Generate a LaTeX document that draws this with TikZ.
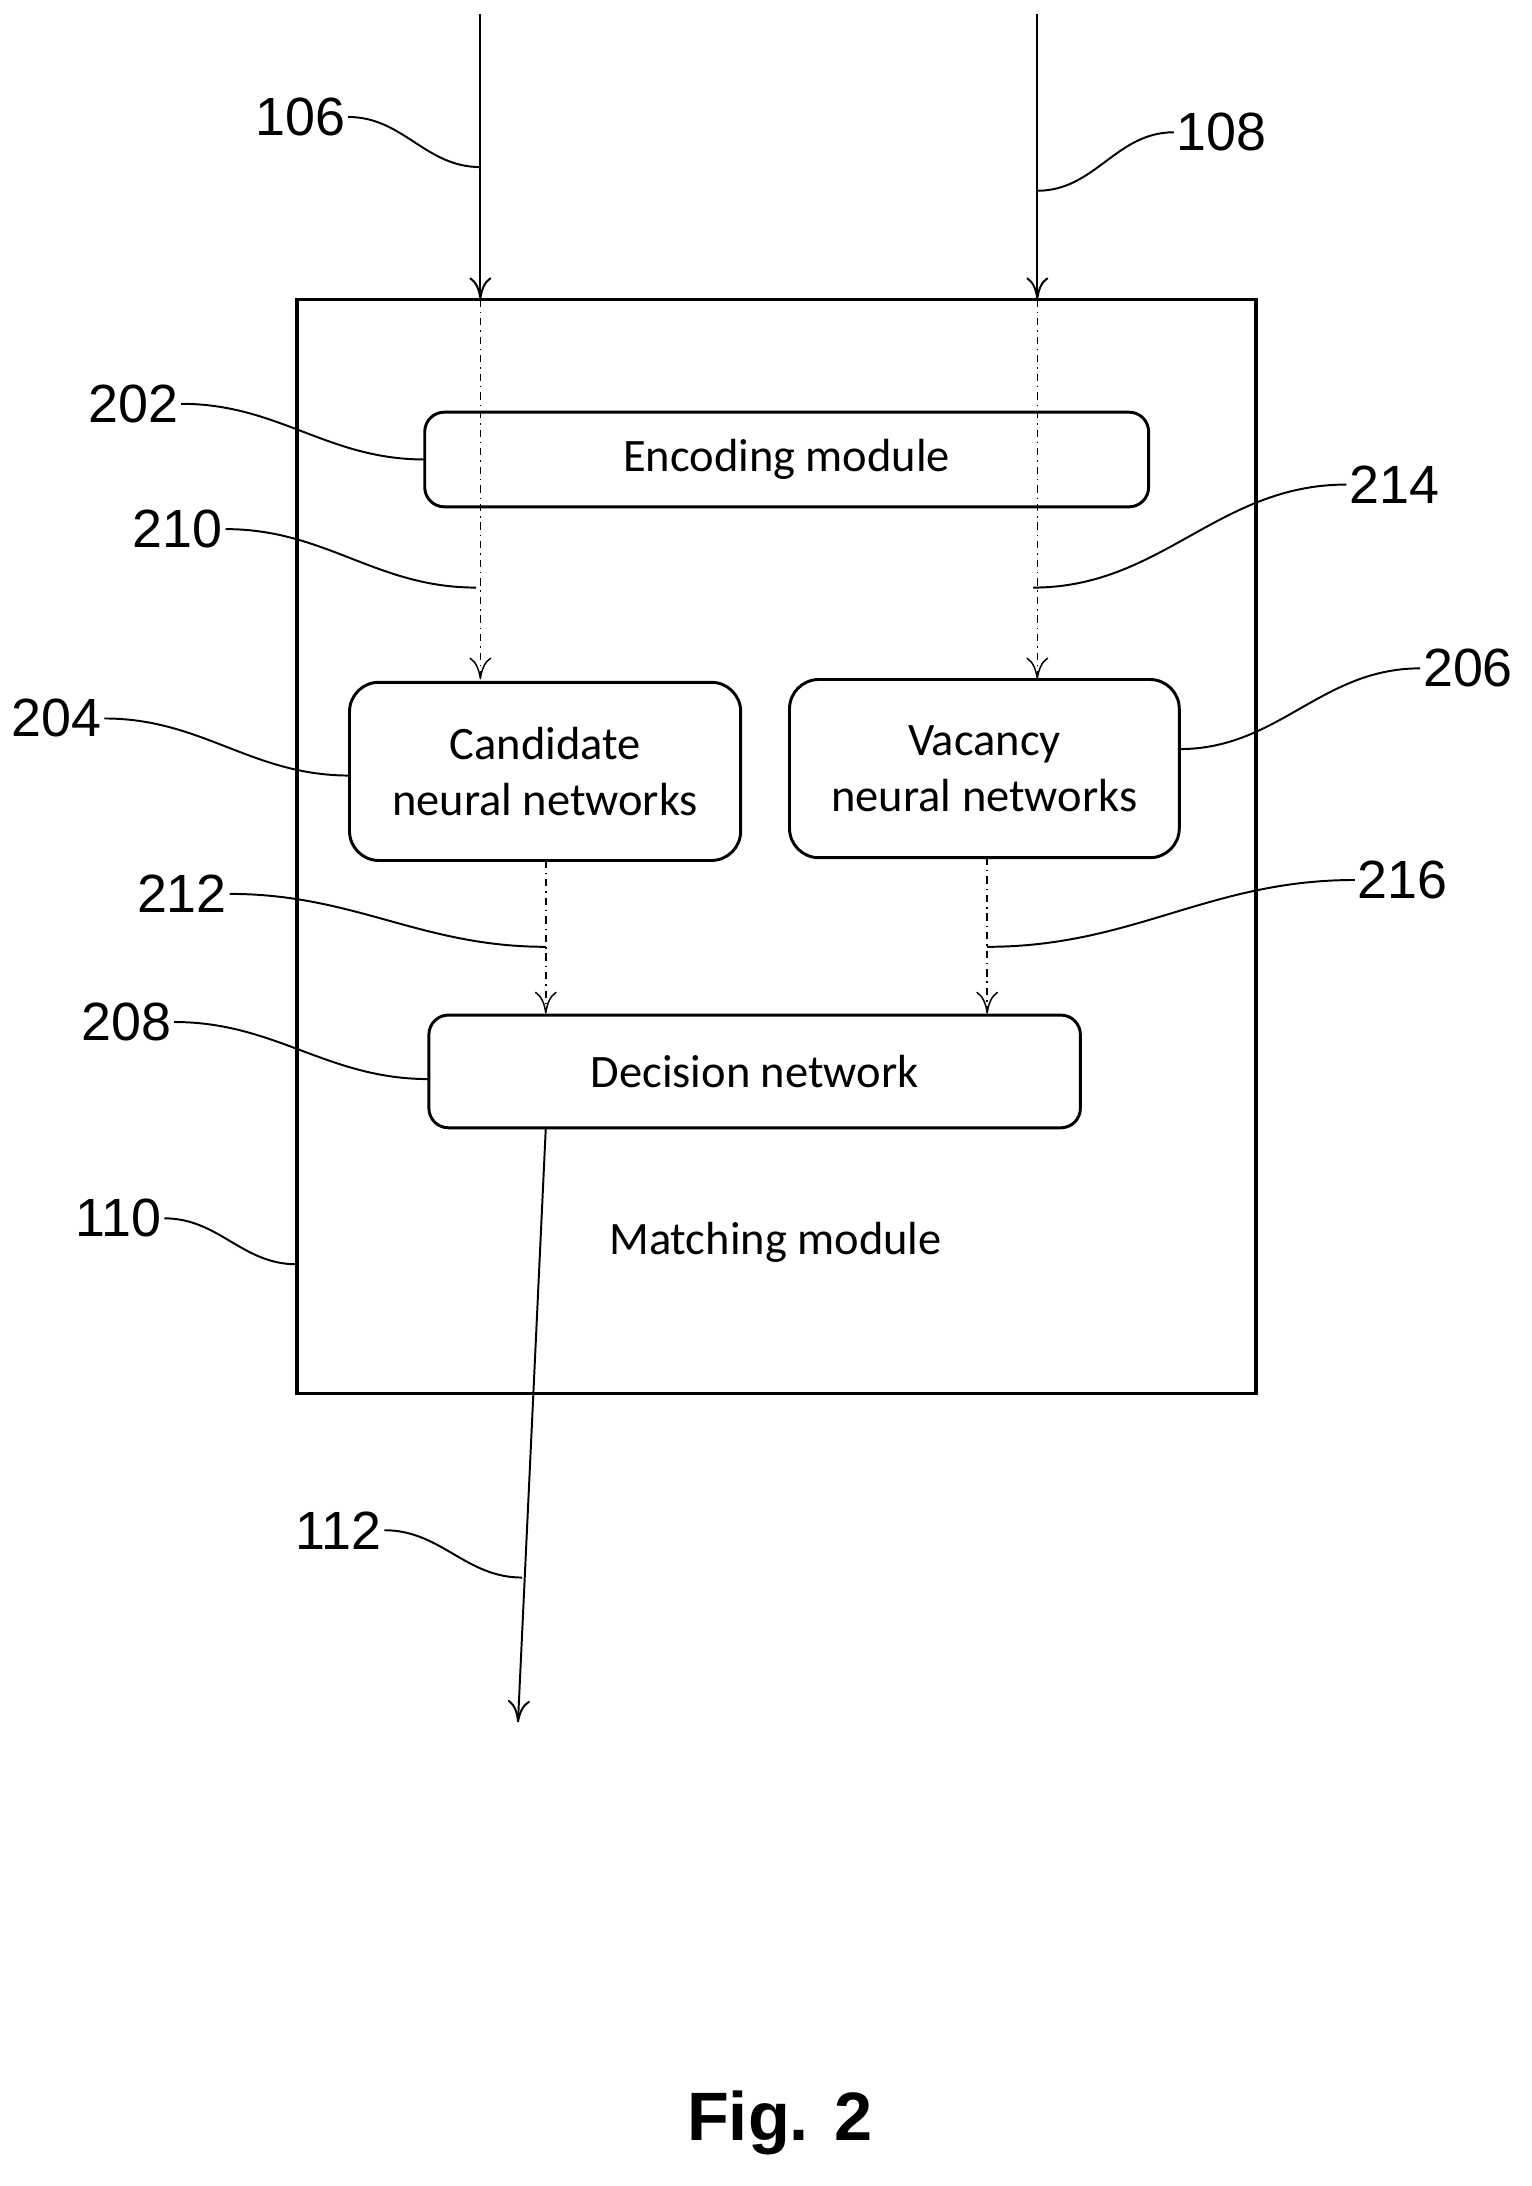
\documentclass[tikz,border=0pt]{standalone}
\usepackage{fontspec}
\setmainfont{Carlito}
\newfontfamily\numfont{Liberation Sans}
\usetikzlibrary{arrows.meta}
\begin{document}
\begin{tikzpicture}[x=0.02cm,y=-0.02cm,
  box/.style={draw,line width=1.2pt,inner sep=0pt,font=\fontsize{19}{23}\selectfont,align=center},
  lbl/.style={font=\fontsize{19}{23}\selectfont},
  num/.style={font=\numfont\fontsize{22}{24}\selectfont,inner sep=1pt},
  arr/.style={line width=0.8pt,-{To[length=9pt,width=9pt]}},
  dd/.style={line width=0.6pt,dash dot,-{To[length=9pt,width=9pt]}},
  lead/.style={line width=0.8pt}]
\useasboundingbox (0,0) rectangle (1100,1570);
\node[draw,line width=1.5pt,minimum width=13.78cm,minimum height=15.72cm,inner sep=0pt] (mod) at (557.5,608) {};
\node[box,rounded corners=8pt,minimum width=10.4cm,minimum height=1.36cm] (enc) at (565,330) {Encoding module};
\node[box,rounded corners=12pt,minimum width=5.62cm,minimum height=2.56cm] (cand) at (391.5,554) {Candidate\\neural networks};
\node[box,rounded corners=12pt,minimum width=5.6cm,minimum height=2.56cm] (vac) at (707,552) {Vacancy\\neural networks};
\node[box,rounded corners=8pt,minimum width=9.36cm,minimum height=1.62cm] (dec) at (542,769.5) {Decision network};
\node[lbl] (mm) at (557,892) {Matching module};
\node[font=\numfont\bfseries\fontsize{28}{30}\selectfont] (fig) at (560,1525) {Fig. 2};

\coordinate (a1) at (345,10); \coordinate (a2) at (345,215); \coordinate (a3) at (345,488);
\coordinate (b1) at (745,10); \coordinate (b2) at (745,215); \coordinate (b3) at (745,488);
\draw[arr] (a1) -- (a2); \draw[dd] (a2) -- (a3);
\draw[arr] (b1) -- (b2); \draw[dd] (b2) -- (b3);
\coordinate (c1) at (392,618); \coordinate (c2) at (392,728);
\coordinate (d1) at (709,616); \coordinate (d2) at (709,728);
\draw[dd] (c1) -- (c2); \draw[dd] (d1) -- (d2);
\coordinate (o1) at (392,810); \coordinate (o2) at (372,1237);
\draw[arr] (o1) -- (o2);

\node[num,anchor=east] (n106) at (250,84) {106};
\node[num,anchor=west] (n108) at (843,95) {108};
\node[num,anchor=east] (n202) at (130,290) {202};
\node[num,anchor=east] (n210) at (162,380) {210};
\node[num,anchor=west] (n214) at (967,348) {214};
\node[num,anchor=east] (n204) at (75,516) {204};
\node[num,anchor=west] (n206) at (1020,480) {206};
\node[num,anchor=east] (n212) at (165,642) {212};
\node[num,anchor=west] (n216) at (973,632) {216};
\node[num,anchor=east] (n208) at (125,734) {208};
\node[num,anchor=east] (n110) at (118,875) {110};
\node[num,anchor=east] (n112) at (276,1099) {112};

\coordinate (t106) at (345,120); \coordinate (t108) at (745,137);
\coordinate (t202) at (305,330); \coordinate (t210) at (342,422);
\coordinate (t214) at (742,422); \coordinate (t204) at (251,557);
\coordinate (t206) at (847,538); \coordinate (t212) at (392,680);
\coordinate (t216) at (709,680); \coordinate (t208) at (308,775);
\coordinate (t110) at (213,908); \coordinate (t112) at (375,1133);
\foreach \n in {106,202,210,204,212,208,110,112}
  \draw[lead] (n\n.east) to[out=0,in=180] (t\n);
\foreach \n in {108,214,206,216}
  \draw[lead] (n\n.west) to[out=180,in=0] (t\n);
\end{tikzpicture}
\end{document}
